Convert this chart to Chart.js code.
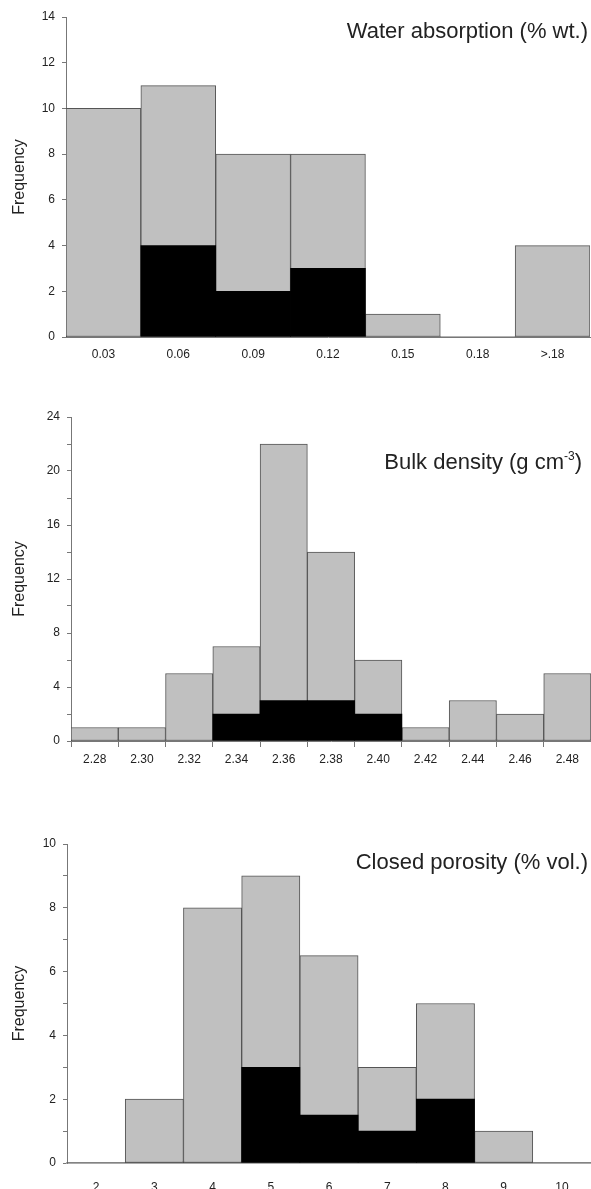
<!DOCTYPE html>
<html>
<head>
<meta charset="utf-8">
<script src="https://cdn.jsdelivr.net/npm/chart.js@4.4.1/dist/chart.umd.min.js"></script>
<style>
  body { margin: 0; background: #fff; width: 591px; height: 1189px; overflow: hidden; position: relative;
         font-family: "Liberation Sans", Arial, sans-serif; }
  .panel { position: absolute; left: 0; width: 591px; }
  .title { position: absolute; font-size: 22px; color: #222; white-space: nowrap; line-height: 1; }
  .title sup { font-size: 12px; vertical-align: 9px; }
</style>
</head>
<body>
<div class="panel" style="top:0;height:375px"><canvas id="c1"></canvas></div>
<div class="panel" style="top:390px;height:390px"><canvas id="c2"></canvas></div>
<div class="panel" style="top:820px;height:369px"><canvas id="c3"></canvas></div>
<div class="title" style="top:20px;right:3px">Water absorption (% wt.)</div>
<div class="title" style="top:450px;right:9px">Bulk density (g cm<sup>-3</sup>)</div>
<div class="title" style="top:851px;right:3px">Closed porosity (% vol.)</div>
<script>
// Water absorption (% wt.)
const waterLabels = ['0.03', '0.06', '0.09', '0.12', '0.15', '0.18', '>.18'];
const waterAll = [10, 11, 8, 8, 1, 0, 4];
const waterBlack = [0, 4, 2, 3, 0, 0, 0];

// Bulk density (g cm-3)
const densityLabels = ['2.28', '2.30', '2.32', '2.34', '2.36', '2.38', '2.40', '2.42', '2.44', '2.46', '2.48'];
const densityAll = [1, 1, 5, 7, 22, 14, 6, 1, 3, 2, 5];
const densityBlack = [0, 0, 0, 2, 3, 3, 2, 0, 0, 0, 0];

// Closed porosity (% vol.)
const porosityLabels = ['2', '3', '4', '5', '6', '7', '8', '9', '10'];
const porosityAll = [0, 2, 8, 9, 6.5, 3, 5, 1, 0];
const porosityBlack = [0, 0, 0, 3, 1.5, 1, 2, 0, 0];

const FONT = '"Liberation Sans", Arial, sans-serif';
const AXIS = '#777';

function makeHist(id, labels, all, black, o) {
    new Chart(document.getElementById(id), {
        type: 'bar',
        data: {
            labels: labels,
            datasets: [
                {
                    data: all,
                    backgroundColor: '#c0c0c0',
                    borderColor: '#555',
                    borderWidth: ctx => ctx.raw ? 1 : 0,
                    borderSkipped: false,
                    grouped: false,
                    order: 2,
                },
                {
                    data: black,
                    backgroundColor: '#000',
                    borderColor: '#000',
                    borderWidth: 0,
                    grouped: false,
                    order: 1,
                },
            ],
        },
        options: {
            responsive: true,
            maintainAspectRatio: false,
            animation: false,
            events: [],
            layout: { padding: { top: o.padTop, right: o.padRight, left: 10, bottom: 0 } },
            datasets: { bar: { categoryPercentage: 1, barPercentage: 1 } },
            plugins: { legend: { display: false }, tooltip: { enabled: false } },
            scales: {
                x: {
                    afterFit: s => { s.height = o.xHeight; },
                    grid: { drawOnChartArea: false, drawTicks: o.xTicks, tickLength: 6, color: AXIS, offset: true },
                    border: { color: o.xBorder || AXIS, width: o.xBorderWidth || 1 },
                    ticks: { font: { family: FONT, size: 12 }, color: '#222', padding: o.xPad, maxRotation: 0, autoSkip: false },
                },
                y: {
                    min: 0,
                    max: o.max,
                    afterFit: s => { s.width = o.yWidth - 10; },
                    grid: { drawOnChartArea: false, drawTicks: true, tickLength: 4, color: AXIS },
                    border: { color: AXIS },
                    ticks: {
                        stepSize: o.step,
                        autoSkip: false,
                        font: { family: FONT, size: 12 },
                        color: '#222',
                        padding: 7,
                        callback: v => (v % o.labelEvery === 0 ? v : ''),
                    },
                    title: { display: true, text: 'Frequency', font: { family: FONT, size: 16 }, color: '#222', padding: 0 },
                },
            },
        },
    });
}

makeHist('c1', waterLabels, waterAll, waterBlack,
    { padTop: 17, padRight: 1, xHeight: 38, xTicks: false, xPad: 10, yWidth: 66, max: 14, step: 2, labelEvery: 2 });
makeHist('c2', densityLabels, densityAll, densityBlack,
    { padTop: 27, padRight: 0, xHeight: 39, xTicks: true, xPad: 5, yWidth: 71, max: 24, step: 2, labelEvery: 4 });
makeHist('c3', porosityLabels, porosityAll, porosityBlack,
    { padTop: 24, padRight: 0, xHeight: 26, xTicks: false, xPad: 17, yWidth: 67, max: 10, step: 1, labelEvery: 2,
      xBorder: '#aaa', xBorderWidth: 2 });
</script>
</body>
</html>
